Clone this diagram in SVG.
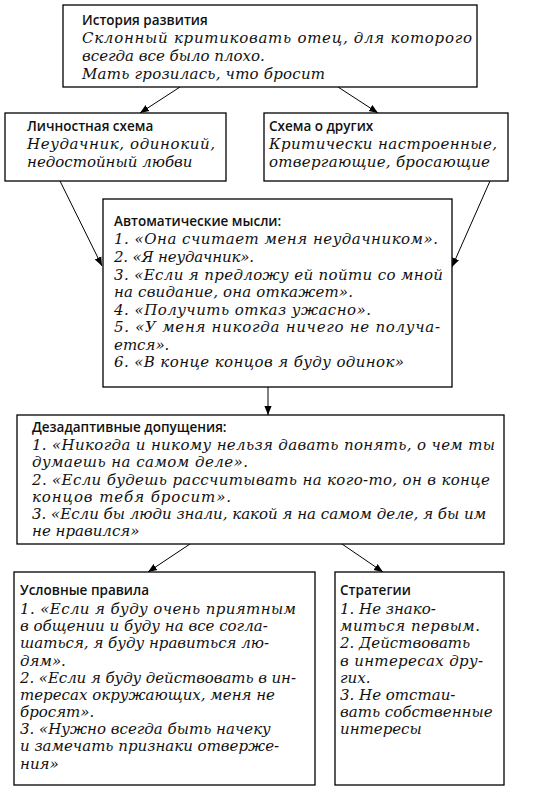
<svg xmlns="http://www.w3.org/2000/svg" width="540" height="789" viewBox="0 0 540 789">
<defs>
<marker id="ah" viewBox="0 0 10 10" refX="10" refY="5" markerWidth="9" markerHeight="9" markerUnits="userSpaceOnUse" orient="auto">
<path d="M0,1 L10,5 L0,9 Z" fill="#000"/>
</marker>
</defs>
<style>
.box{fill:#fff;stroke:#000;stroke-width:1.3}
.t{font-family:"Open Sans","Noto Sans","DejaVu Sans",sans-serif;font-weight:600;font-size:13.5px;fill:#111}
.b{font-family:"DejaVu Serif","Liberation Serif",serif;font-style:italic;font-size:15px;fill:#111}
.c{fill:none;stroke:#000;stroke-width:1}
</style>
<rect width="540" height="789" fill="#fff"/>
<g id="connectors">
<line class="c" x1="180" y1="87" x2="140" y2="113" marker-end="url(#ah)"/>
<line class="c" x1="338" y1="87" x2="378" y2="113" marker-end="url(#ah)"/>
<line class="c" x1="60" y1="181" x2="102" y2="266" marker-end="url(#ah)"/>
<line class="c" x1="490" y1="181" x2="452" y2="267" marker-end="url(#ah)"/>
<line class="c" x1="268" y1="387" x2="268" y2="415" marker-end="url(#ah)"/>
<line class="c" x1="190" y1="544" x2="148" y2="572" marker-end="url(#ah)"/>
<line class="c" x1="342" y1="544" x2="383" y2="572" marker-end="url(#ah)"/>
</g>
<g id="history">
<rect class="box" x="63" y="5" width="414" height="82"/>
<text class="t" x="82" y="25">История развития</text>
<text class="b" x="82" y="43" textLength="390">Склонный критиковать отец, для которого</text>
<text class="b" x="82" y="61">всегда все было плохо.</text>
<text class="b" x="82" y="79" textLength="243">Мать грозилась, что бросит</text>
</g>
<g id="self-schema">
<rect class="box" x="5" y="113" width="221" height="68"/>
<text class="t" x="27" y="131">Личностная схема</text>
<text class="b" x="27" y="149" textLength="188">Неудачник, одинокий,</text>
<text class="b" x="27" y="167">недостойный любви</text>
</g>
<g id="others-schema">
<rect class="box" x="264" y="113" width="244" height="68"/>
<text class="t" x="269" y="131">Схема о других</text>
<text class="b" x="269" y="149" textLength="228">Критически настроенные,</text>
<text class="b" x="269" y="167" textLength="221">отвергающие, бросающие</text>
</g>
<g id="automatic-thoughts">
<rect class="box" x="103" y="199" width="349" height="188"/>
<text class="t" x="114" y="226">Автоматические мысли:</text>
<text class="b" x="114" y="244" textLength="324">1. «Она считает меня неудачником».</text>
<text class="b" x="114" y="262" textLength="140">2. «Я неудачник».</text>
<text class="b" x="114" y="280" textLength="329">3. «Если я предложу ей пойти со мной</text>
<text class="b" x="114" y="297" textLength="239">на свидание, она откажет».</text>
<text class="b" x="114" y="315" textLength="257">4. «Получить отказ ужасно».</text>
<text class="b" x="114" y="332" textLength="326">5. «У меня никогда ничего не получа-</text>
<text class="b" x="114" y="350">ется».</text>
<text class="b" x="114" y="367" textLength="290">6. «В конце концов я буду одинок»</text>
</g>
<g id="assumptions">
<rect class="box" x="17" y="415" width="487" height="129"/>
<text class="t" x="32" y="432">Дезадаптивные допущения:</text>
<text class="b" x="32" y="450" textLength="463">1. «Никогда и никому нельзя давать понять, о чем ты</text>
<text class="b" x="32" y="467" textLength="216">думаешь на самом деле».</text>
<text class="b" x="32" y="485" textLength="458">2. «Если будешь рассчитывать на кого-то, он в конце</text>
<text class="b" x="32" y="502" textLength="199">концов тебя бросит».</text>
<text class="b" x="32" y="519">3. «Если бы люди знали, какой я на самом деле, я бы им</text>
<text class="b" x="32" y="536">не нравился»</text>
</g>
<g id="conditional-rules">
<rect class="box" x="14" y="572" width="301" height="213"/>
<text class="t" x="20" y="595">Условные правила</text>
<text class="b" x="20" y="614" textLength="276">1. «Если я буду очень приятным</text>
<text class="b" x="20" y="631">в общении и буду на все согла-</text>
<text class="b" x="20" y="648">шаться, я буду нравиться лю-</text>
<text class="b" x="20" y="666">дям».</text>
<text class="b" x="20" y="683" textLength="276">2. «Если я буду действовать в ин-</text>
<text class="b" x="20" y="700">тересах окружающих, меня не</text>
<text class="b" x="20" y="717">бросят».</text>
<text class="b" x="20" y="734">3. «Нужно всегда быть начеку</text>
<text class="b" x="20" y="751">и замечать признаки отверже-</text>
<text class="b" x="20" y="769">ния»</text>
</g>
<g id="strategies">
<rect class="box" x="335" y="572" width="169" height="213"/>
<text class="t" x="340" y="595">Стратегии</text>
<text class="b" x="340" y="614">1. Не знако-</text>
<text class="b" x="340" y="631" textLength="140">миться первым.</text>
<text class="b" x="340" y="648">2. Действовать</text>
<text class="b" x="340" y="666" textLength="143">в интересах дру-</text>
<text class="b" x="340" y="683">гих.</text>
<text class="b" x="340" y="700">3. Не отстаи-</text>
<text class="b" x="340" y="717">вать собственные</text>
<text class="b" x="340" y="734">интересы</text>
</g>
</svg>
